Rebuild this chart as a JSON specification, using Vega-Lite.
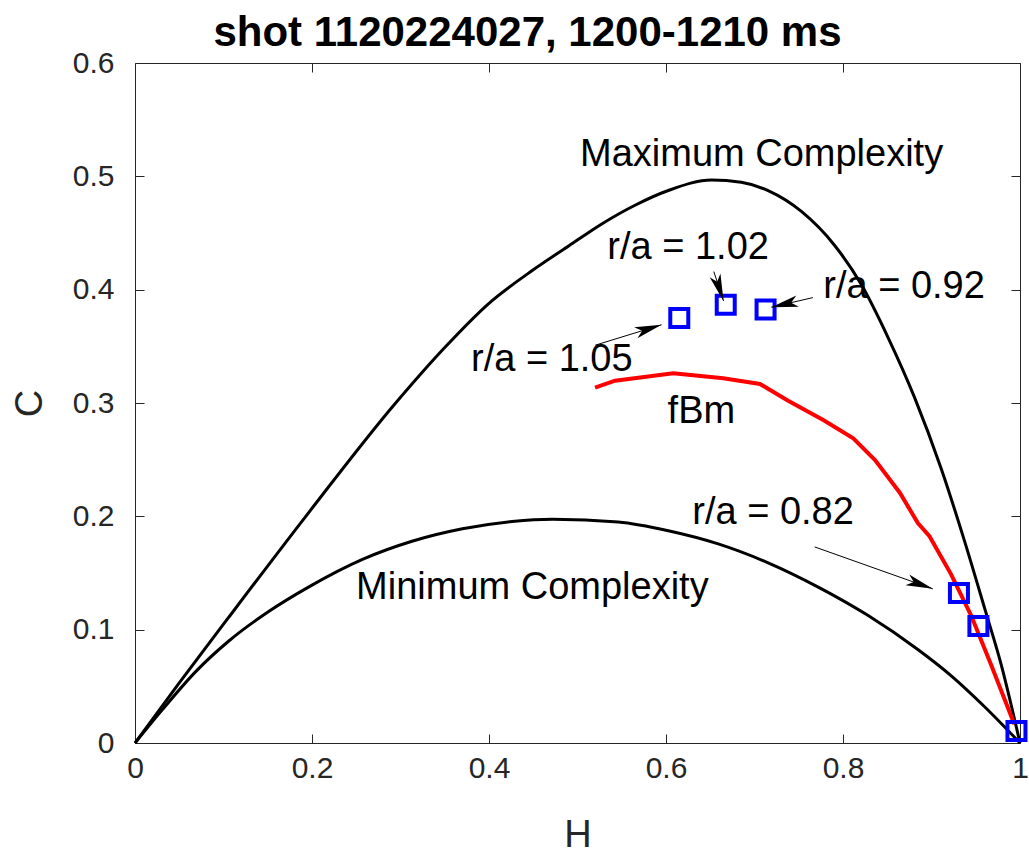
{
  "$schema": "https://vega.github.io/schema/vega-lite/v6.json",
  "width": 885,
  "height": 680,
  "autosize": {"type": "none"},
  "padding": {"left": 135, "top": 63, "right": 9, "bottom": 112},
  "background": "white",
  "title": {"text": "shot 1120224027, 1200-1210 ms", "font": "Liberation Sans", "fontSize": 42, "fontWeight": "bold", "color": "black", "anchor": "middle", "dx": -50, "offset": -7},
  "config": {
    "view": {"stroke": "#262626", "strokeWidth": 1},
    "axis": {"grid": false, "domain": false, "tickColor": "#262626", "tickWidth": 1, "tickSize": -9, "labelFont": "Liberation Sans", "labelFontSize": 30, "labelColor": "#262626", "labelFlush": false, "titleFont": "Liberation Sans", "titleFontSize": 38, "titleFontWeight": "normal", "titleColor": "#262626"}
  },
  "datasets": {
    "curves": [
      {"curve": "max", "H": 0, "C": 0},
      {"curve": "max", "H": 0.05, "C": 0.053},
      {"curve": "max", "H": 0.106, "C": 0.111},
      {"curve": "max", "H": 0.193, "C": 0.2},
      {"curve": "max", "H": 0.2945, "C": 0.3},
      {"curve": "max", "H": 0.35, "C": 0.349},
      {"curve": "max", "H": 0.4, "C": 0.388},
      {"curve": "max", "H": 0.45, "C": 0.4175},
      {"curve": "max", "H": 0.49, "C": 0.4385},
      {"curve": "max", "H": 0.5274, "C": 0.458},
      {"curve": "max", "H": 0.565, "C": 0.4745},
      {"curve": "max", "H": 0.6026, "C": 0.4875},
      {"curve": "max", "H": 0.6515, "C": 0.4967},
      {"curve": "max", "H": 0.685, "C": 0.4947},
      {"curve": "max", "H": 0.7154, "C": 0.4874},
      {"curve": "max", "H": 0.753, "C": 0.469},
      {"curve": "max", "H": 0.7906, "C": 0.439},
      {"curve": "max", "H": 0.8207, "C": 0.4045},
      {"curve": "max", "H": 0.8508, "C": 0.358},
      {"curve": "max", "H": 0.8808, "C": 0.305},
      {"curve": "max", "H": 0.911, "C": 0.242},
      {"curve": "max", "H": 0.937, "C": 0.179},
      {"curve": "max", "H": 0.96, "C": 0.119},
      {"curve": "max", "H": 0.9786, "C": 0.0696},
      {"curve": "max", "H": 1, "C": 0},
      {"curve": "min", "H": 0, "C": 0},
      {"curve": "min", "H": 0.031, "C": 0.0295},
      {"curve": "min", "H": 0.0686, "C": 0.063},
      {"curve": "min", "H": 0.106, "C": 0.09},
      {"curve": "min", "H": 0.151, "C": 0.116},
      {"curve": "min", "H": 0.197, "C": 0.138},
      {"curve": "min", "H": 0.257, "C": 0.162},
      {"curve": "min", "H": 0.313, "C": 0.178},
      {"curve": "min", "H": 0.37, "C": 0.189},
      {"curve": "min", "H": 0.426, "C": 0.1955},
      {"curve": "min", "H": 0.472, "C": 0.1975},
      {"curve": "min", "H": 0.546, "C": 0.195},
      {"curve": "min", "H": 0.6026, "C": 0.1873},
      {"curve": "min", "H": 0.659, "C": 0.1757},
      {"curve": "min", "H": 0.7154, "C": 0.159},
      {"curve": "min", "H": 0.772, "C": 0.1376},
      {"curve": "min", "H": 0.828, "C": 0.1127},
      {"curve": "min", "H": 0.8846, "C": 0.0825},
      {"curve": "min", "H": 0.922, "C": 0.0595},
      {"curve": "min", "H": 0.96, "C": 0.032},
      {"curve": "min", "H": 1, "C": 0},
      {"curve": "fbm", "H": 0.5198, "C": 0.3135},
      {"curve": "fbm", "H": 0.5424, "C": 0.3197},
      {"curve": "fbm", "H": 0.6082, "C": 0.3262},
      {"curve": "fbm", "H": 0.6647, "C": 0.3218},
      {"curve": "fbm", "H": 0.7062, "C": 0.3168},
      {"curve": "fbm", "H": 0.738, "C": 0.302},
      {"curve": "fbm", "H": 0.7777, "C": 0.285},
      {"curve": "fbm", "H": 0.8116, "C": 0.2689},
      {"curve": "fbm", "H": 0.8362, "C": 0.2497},
      {"curve": "fbm", "H": 0.8644, "C": 0.2206},
      {"curve": "fbm", "H": 0.8846, "C": 0.194},
      {"curve": "fbm", "H": 0.8977, "C": 0.1824},
      {"curve": "fbm", "H": 0.922, "C": 0.149},
      {"curve": "fbm", "H": 0.9447, "C": 0.1127},
      {"curve": "fbm", "H": 0.967, "C": 0.0696},
      {"curve": "fbm", "H": 0.9936, "C": 0.0166}
    ],
    "squares": [
      {"H": 0.615, "C": 0.375},
      {"H": 0.6675, "C": 0.3868},
      {"H": 0.7125, "C": 0.3825},
      {"H": 0.931, "C": 0.1323},
      {"H": 0.953, "C": 0.1033},
      {"H": 0.996, "C": 0.0105}
    ],
    "arrows": [
      {"H1": 0.654, "C1": 0.416, "H2": 0.665, "C2": 0.39},
      {"H1": 0.766, "C1": 0.393, "H2": 0.719, "C2": 0.3845},
      {"H1": 0.52, "C1": 0.351, "H2": 0.595, "C2": 0.369},
      {"H1": 0.768, "C1": 0.173, "H2": 0.9015, "C2": 0.136}
    ],
    "labels": [
      {"H": 0.708, "C": 0.519, "text": "Maximum Complexity"},
      {"H": 0.449, "C": 0.137, "text": "Minimum Complexity"},
      {"H": 0.64, "C": 0.292, "text": "fBm"},
      {"H": 0.625, "C": 0.437, "text": "r/a = 1.02"},
      {"H": 0.869, "C": 0.402, "text": "r/a = 0.92"},
      {"H": 0.471, "C": 0.338, "text": "r/a = 1.05"},
      {"H": 0.721, "C": 0.203, "text": "r/a = 0.82"}
    ]
  },
  "resolve": {"axis": {"x": "independent", "y": "independent"}},
  "layer": [
    {
      "data": {"name": "curves"},
      "transform": [{"filter": "datum.curve === 'max'"}],
      "mark": {"type": "line", "color": "black", "strokeWidth": 3, "interpolate": "monotone"},
      "encoding": {
        "x": {"field": "H", "type": "quantitative", "scale": {"domain": [0, 1], "nice": false, "zero": false},
          "axis": {"orient": "bottom", "values": [0, 0.2, 0.4, 0.6, 0.8, 1], "format": "~g", "labelPadding": 19, "title": "H", "titleY": 92, "titleBaseline": "middle"}},
        "y": {"field": "C", "type": "quantitative", "scale": {"domain": [0, 0.6], "nice": false, "zero": false},
          "axis": {"orient": "left", "values": [0, 0.1, 0.2, 0.3, 0.4, 0.5, 0.6], "format": "~g", "labelPadding": 30, "title": "C", "titleX": -105, "titleY": 340, "titleBaseline": "middle", "titleAlign": "center"}}
      }
    },
    {
      "data": {"name": "curves"},
      "transform": [{"filter": "datum.curve === 'max'"}],
      "mark": {"type": "point", "opacity": 0},
      "encoding": {
        "x": {"field": "H", "type": "quantitative", "axis": {"orient": "top", "values": [0, 0.2, 0.4, 0.6, 0.8, 1], "labels": false, "title": null}},
        "y": {"field": "C", "type": "quantitative", "axis": {"orient": "right", "values": [0, 0.1, 0.2, 0.3, 0.4, 0.5, 0.6], "labels": false, "title": null}}
      }
    },
    {
      "data": {"name": "curves"},
      "transform": [{"filter": "datum.curve === 'min'"}],
      "mark": {"type": "line", "color": "black", "strokeWidth": 3, "interpolate": "monotone"},
      "encoding": {
        "x": {"field": "H", "type": "quantitative", "axis": null},
        "y": {"field": "C", "type": "quantitative", "axis": null}
      }
    },
    {
      "data": {"name": "curves"},
      "transform": [{"filter": "datum.curve === 'fbm'"}],
      "mark": {"type": "line", "color": "#ff0000", "strokeWidth": 4},
      "encoding": {
        "x": {"field": "H", "type": "quantitative", "axis": null},
        "y": {"field": "C", "type": "quantitative", "axis": null}
      }
    },
    {
      "data": {"name": "squares"},
      "mark": {"type": "point", "shape": "square", "size": 324, "filled": false, "stroke": "#0000ff", "strokeWidth": 4, "opacity": 1},
      "encoding": {
        "x": {"field": "H", "type": "quantitative", "axis": null},
        "y": {"field": "C", "type": "quantitative", "axis": null}
      }
    },
    {
      "data": {"name": "arrows"},
      "mark": {"type": "rule", "color": "black", "strokeWidth": 1},
      "encoding": {
        "x": {"field": "H1", "type": "quantitative", "axis": null},
        "y": {"field": "C1", "type": "quantitative", "axis": null},
        "x2": {"field": "H2"},
        "y2": {"field": "C2"}
      }
    },
    {
      "data": {"name": "arrows"},
      "transform": [{"calculate": "atan2(-(datum.C2 - datum.C1) * 680 / 0.6, (datum.H2 - datum.H1) * 885) * 180 / PI", "as": "dir"}],
      "mark": {"type": "point", "shape": "M0,0 L-2,-0.42 L-1.5,0 L-2,0.42 Z", "size": 729, "filled": true, "color": "black", "opacity": 1, "strokeWidth": 0},
      "encoding": {
        "x": {"field": "H2", "type": "quantitative", "axis": null},
        "y": {"field": "C2", "type": "quantitative", "axis": null},
        "angle": {"field": "dir", "type": "quantitative", "scale": null}
      }
    },
    {
      "data": {"name": "labels"},
      "mark": {"type": "text", "font": "Liberation Sans", "fontSize": 38, "color": "black", "align": "center", "baseline": "middle"},
      "encoding": {
        "x": {"field": "H", "type": "quantitative", "axis": null},
        "y": {"field": "C", "type": "quantitative", "axis": null},
        "text": {"field": "text"}
      }
    }
  ]
}
